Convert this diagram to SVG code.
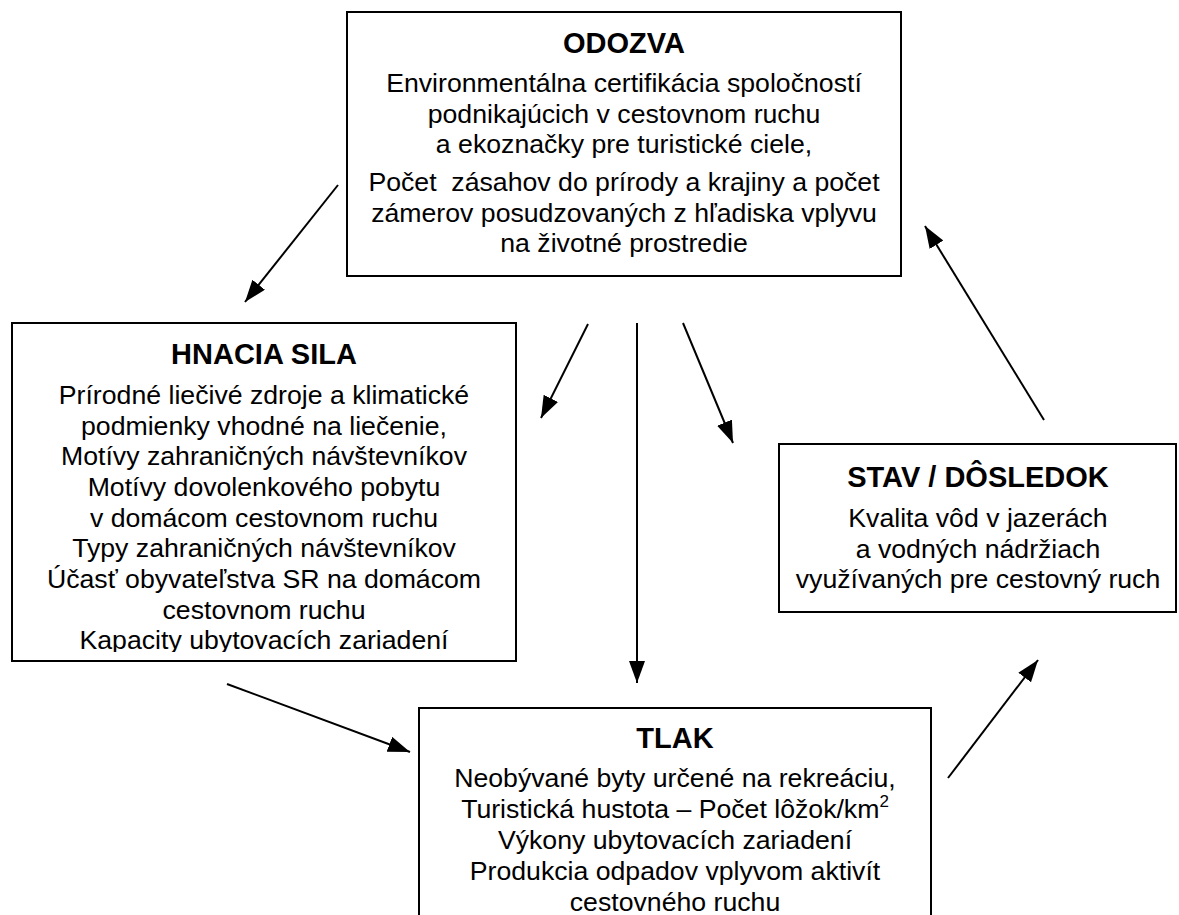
<svg xmlns="http://www.w3.org/2000/svg" width="1179" height="915" viewBox="0 0 1179 915">
<style>
.box{fill:#fff;stroke:#000;stroke-width:2}
.t{font-family:"Liberation Sans",Arial,sans-serif;font-size:29px;font-weight:bold;text-anchor:middle;fill:#000}
.b{font-family:"Liberation Sans",Arial,sans-serif;font-size:26.67px;text-anchor:middle;fill:#000}
.c{stroke:#000;stroke-width:2;fill:none;marker-end:url(#ah)}
</style>
<defs>
<marker id="ah" markerUnits="userSpaceOnUse" markerWidth="24" markerHeight="18" refX="22" refY="8" orient="auto">
<path d="M0,0 L22,8 L0,16 z" fill="#000"/>
</marker>
<clipPath id="hclip"><rect x="12" y="323" width="504" height="329"/></clipPath>
</defs>
<rect width="1179" height="915" fill="#fff"/>
<g id="odozva">
<rect class="box" x="347" y="12" width="554" height="264"/>
<text class="t" x="624" y="53">ODOZVA</text>
<text class="b" x="624" y="92">Environmentálna certifikácia spoločností</text>
<text class="b" x="624" y="122.7">podnikajúcich v cestovnom ruchu</text>
<text class="b" x="624" y="153.3">a ekoznačky pre turistické ciele,</text>
<text class="b" x="624" y="191" xml:space="preserve">Počet  zásahov do prírody a krajiny a počet</text>
<text class="b" x="624" y="221.7">zámerov posudzovaných z hľadiska vplyvu</text>
<text class="b" x="624" y="252.3">na životné prostredie</text>
</g>
<g id="hnacia-sila">
<rect class="box" x="12" y="323" width="504" height="338"/>
<g clip-path="url(#hclip)">
<text class="t" x="264" y="364">HNACIA SILA</text>
<text class="b" x="264" y="404">Prírodné liečivé zdroje a klimatické</text>
<text class="b" x="264" y="434.7">podmienky vhodné na liečenie,</text>
<text class="b" x="264" y="465.3">Motívy zahraničných návštevníkov</text>
<text class="b" x="264" y="496">Motívy dovolenkového pobytu</text>
<text class="b" x="264" y="526.7">v domácom cestovnom ruchu</text>
<text class="b" x="264" y="557.3">Typy zahraničných návštevníkov</text>
<text class="b" x="264" y="588">Účasť obyvateľstva SR na domácom</text>
<text class="b" x="264" y="618.7">cestovnom ruchu</text>
<text class="b" x="264" y="649.3">Kapacity ubytovacích zariadení</text>
</g>
</g>
<g id="stav-dosledok">
<rect class="box" x="779" y="444" width="397" height="168"/>
<text class="t" x="978" y="487">STAV / DÔSLEDOK</text>
<text class="b" x="978" y="527">Kvalita vôd v jazerách</text>
<text class="b" x="978" y="557.7">a vodných nádržiach</text>
<text class="b" x="978" y="588.3">využívaných pre cestovný ruch</text>
</g>
<g id="tlak">
<rect class="box" x="419" y="708" width="512" height="230"/>
<text class="t" x="675" y="748">TLAK</text>
<text class="b" x="675" y="787">Neobývané byty určené na rekreáciu,</text>
<text class="b" x="675" y="818">Turistická hustota – Počet lôžok/km<tspan font-size="17" dy="-11">2</tspan></text>
<text class="b" x="675" y="849">Výkony ubytovacích zariadení</text>
<text class="b" x="675" y="880">Produkcia odpadov vplyvom aktivít</text>
<text class="b" x="675" y="911">cestovného ruchu</text>
</g>
<g id="connectors">
<line class="c" x1="338" y1="185" x2="245" y2="302"/>
<line class="c" x1="588" y1="324" x2="541" y2="418"/>
<line class="c" x1="637" y1="323" x2="637" y2="683"/>
<line class="c" x1="683" y1="323" x2="733" y2="443"/>
<line class="c" x1="1044" y1="420" x2="925" y2="226"/>
<line class="c" x1="948" y1="778" x2="1038" y2="660"/>
<line class="c" x1="227" y1="684" x2="410" y2="752"/>
</g>
</svg>
